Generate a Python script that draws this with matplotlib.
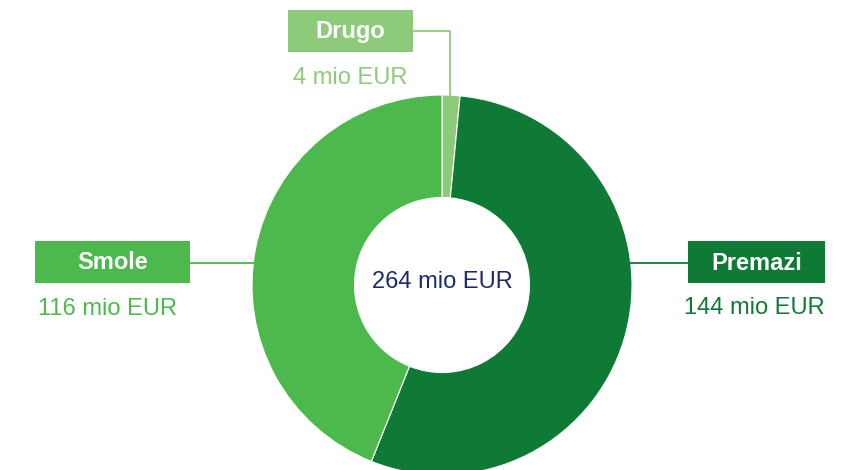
import matplotlib
matplotlib.use("Agg")
import matplotlib.pyplot as plt
from matplotlib.patches import Rectangle

plt.rcParams['font.family'] = ['Liberation Sans', 'DejaVu Sans']

categories = ['Drugo', 'Premazi', 'Smole']
values = [4, 144, 116]
value_labels = ['4 mio EUR', '144 mio EUR', '116 mio EUR']
total_label = '264 mio EUR'
colors = ['#8DCB7B', '#0E7A35', '#4DB84B']

W, H = 851, 470
fig = plt.figure(figsize=(W / 100, H / 100), dpi=100)
ax = fig.add_axes([0, 0, 1, 1])

# donut, pixel coords (y flipped)
cx, cy = 442, H - 285
R, r = 190, 87.5
ax.pie(values, colors=colors, startangle=90, counterclock=False,
       center=(cx, cy), radius=R, frame=True,
       wedgeprops=dict(width=R - r, edgecolor='white', linewidth=0.8))
ax.set_xlim(0, W)
ax.set_ylim(0, H)
ax.set_aspect('equal')
ax.axis('off')

ax.text(cx, H - 288, total_label, ha='center', va='baseline',
        fontsize=17, color='#1C2A6B')

# label boxes: x0, top, width, height, name baseline, value x, value baseline, leader
boxes = {
    'Drugo': (288, 10, 125, 42, 38, 350, 84,
              [(413, 31), (450, 31), (450, 97)]),
    'Premazi': (688, 241, 137, 42, 270, 754, 314,
                [(630, 263), (688, 263)]),
    'Smole': (35, 241, 155, 42, 269, 108, 315,
              [(190, 263), (254, 263)]),
}

for name, val, col in zip(categories, value_labels, colors):
    x0, y0, bw, bh, nb, tx, vb, pts = boxes[name]
    ax.add_patch(Rectangle((x0, H - y0 - bh), bw, bh, facecolor=col,
                           edgecolor='none', zorder=3))
    ax.text(x0 + bw / 2, H - nb, name, ha='center', va='baseline',
            fontsize=17, fontweight='bold', color='white', zorder=4)
    ax.text(tx, H - vb, val, ha='center', va='baseline', fontsize=17,
            color=col)
    xs = [p[0] for p in pts]
    ys = [H - p[1] for p in pts]
    ax.plot(xs, ys, color=col, lw=1.3, zorder=1)

fig.savefig('out.png', dpi=100)
